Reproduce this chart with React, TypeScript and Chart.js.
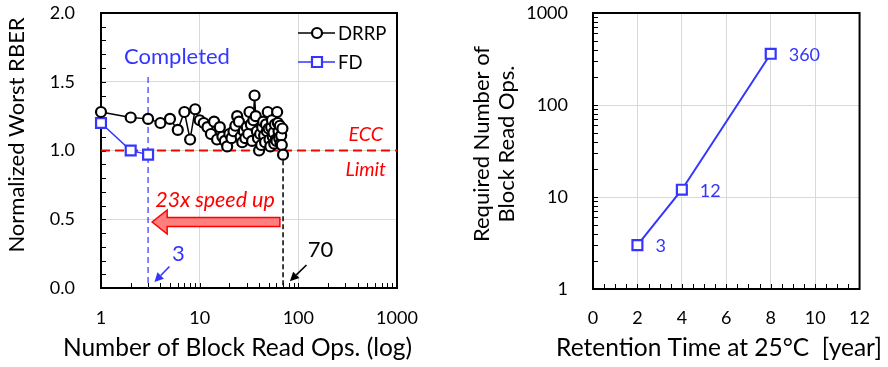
import React, { useEffect, useRef } from "react";
import { Chart, registerables } from "chart.js";

Chart.register(...registerables);

const FONT = "Lato, 'Open Sans', 'DejaVu Sans', sans-serif";
const BLUE = "#3535ff";
const RED = "#ff0000";
const GRID = "#d9d9d9";

// ---- left panel: worst-case RBER vs. number of block read operations ----
const blockReadOps = [
  1, 2, 3, 4, 5, 6, 7, 8, 9, 10, 11, 12, 13, 14, 15, 16, 17, 18, 19, 20,
  21, 22, 23, 24, 25, 26, 27, 28, 29, 30, 31, 32, 33, 34, 35, 36, 37, 38, 39, 40,
  41, 42, 43, 44, 45, 46, 47, 48, 49, 50, 51, 52, 53, 54, 55, 56, 57, 58, 59, 60,
  61, 62, 63, 64, 65, 66, 67, 68, 69, 70,
];
const drrpRber = [
  1.28, 1.24, 1.23, 1.2, 1.23, 1.15, 1.28, 1.08, 1.3, 1.22,
  1.2, 1.17, 1.12, 1.21, 1.08, 1.17, 1.1, 1.07, 1.03, 1.12,
  1.09, 1.14, 1.18, 1.25, 1.21, 1.1, 1.06, 1.14, 1.09, 1.17,
  1.12, 1.28, 1.19, 1.07, 1.22, 1.4, 1.25, 1.14, 1.09, 1.0,
  1.12, 1.04, 1.17, 1.21, 1.11, 1.06, 1.19, 1.14, 1.28, 1.16,
  1.08, 1.03, 1.17, 1.22, 1.1, 1.13, 1.05, 1.19, 1.08, 1.07,
  1.28, 1.2, 1.14, 1.09, 1.18, 1.05, 1.11, 1.04, 1.16, 0.97,
];
const fdReadOps = [1, 2, 3];
const fdRber = [1.2, 1.0, 0.97];
const rberTicks = [0, 0.5, 1.0, 1.5, 2.0];
const readOpsTicks = [1, 10, 100, 1000];
const eccLimit = 1.0;
const fdDoneOps = 3;
const drrpDoneOps = 70;

// ---- right panel: read operations needed vs. retention time ----
const retentionYears = [2, 4, 8];
const requiredReadOps = [3, 12, 360];
const retentionTicks = [0, 2, 4, 6, 8, 10, 12];
const requiredTicks = [1, 10, 100, 1000];

const font = (size: number, style = "normal") => `${style} ${size}px ${FONT}`;

function logMinorTicks(min: number, max: number): number[] {
  const out: number[] = [];
  for (let d = min; d < max; d *= 10) {
    for (let m = 2; m <= 10; m++) out.push(m * d);
  }
  return out;
}

function text(
  ctx: CanvasRenderingContext2D,
  s: string,
  x: number,
  y: number,
  size: number,
  color: string,
  align: CanvasTextAlign = "center",
  style = "normal",
  rotate = 0,
  baseline: CanvasTextBaseline = "middle"
) {
  ctx.save();
  ctx.translate(x, y);
  if (rotate) ctx.rotate(rotate);
  ctx.font = font(size, style);
  ctx.fillStyle = color;
  ctx.textAlign = align;
  ctx.textBaseline = baseline;
  ctx.fillText(s, 0, 0);
  ctx.restore();
}

function arrow(
  ctx: CanvasRenderingContext2D,
  x1: number,
  y1: number,
  x2: number,
  y2: number,
  color: string
) {
  const ang = Math.atan2(y2 - y1, x2 - x1);
  const hl = 9;
  const hw = 4.5;
  const bx = x2 - hl * Math.cos(ang);
  const by = y2 - hl * Math.sin(ang);
  ctx.save();
  ctx.strokeStyle = color;
  ctx.fillStyle = color;
  ctx.lineWidth = 1.6;
  ctx.beginPath();
  ctx.moveTo(x1, y1);
  ctx.lineTo(bx, by);
  ctx.stroke();
  ctx.beginPath();
  ctx.moveTo(x2, y2);
  ctx.lineTo(bx + hw * Math.sin(ang), by - hw * Math.cos(ang));
  ctx.lineTo(bx - hw * Math.sin(ang), by + hw * Math.cos(ang));
  ctx.closePath();
  ctx.fill();
  ctx.restore();
}

function frameAndTicks(chart: any, yMinor: number[], xMinor: number[]) {
  const { ctx, chartArea: a, scales } = chart;
  ctx.save();
  ctx.strokeStyle = "#000";
  ctx.lineWidth = 1;
  ctx.beginPath();
  for (const v of yMinor) {
    const p = Math.round(scales.y.getPixelForValue(v)) + 0.5;
    ctx.moveTo(a.left, p);
    ctx.lineTo(a.left + 5, p);
  }
  for (const v of xMinor) {
    const p = Math.round(scales.x.getPixelForValue(v)) + 0.5;
    ctx.moveTo(p, a.bottom);
    ctx.lineTo(p, a.bottom - 5);
  }
  ctx.stroke();
  ctx.lineWidth = 2;
  ctx.strokeRect(a.left, a.top, a.right - a.left, a.bottom - a.top);
  ctx.restore();
}

function vDash(chart: any, xv: number, y0: number, y1: number, color: string, w: number, dash: number[]) {
  const { ctx, scales } = chart;
  const x = scales.x.getPixelForValue(xv);
  ctx.save();
  ctx.strokeStyle = color;
  ctx.lineWidth = w;
  ctx.setLineDash(dash);
  ctx.beginPath();
  ctx.moveTo(x, scales.y.getPixelForValue(y0));
  ctx.lineTo(x, scales.y.getPixelForValue(y1));
  ctx.stroke();
  ctx.restore();
}

const leftDecor = {
  id: "leftDecor",
  beforeDatasetsDraw(chart: any) {
    const { ctx, chartArea: a, scales } = chart;
    const yMinor: number[] = [];
    for (let i = 1; i < 20; i++) yMinor.push(i / 10);
    frameAndTicks(chart, yMinor, logMinorTicks(1, 1000));

    // ECC limit
    const ye = scales.y.getPixelForValue(eccLimit);
    ctx.save();
    ctx.strokeStyle = RED;
    ctx.lineWidth = 2;
    ctx.setLineDash([9, 5]);
    ctx.beginPath();
    ctx.moveTo(a.left, ye);
    ctx.lineTo(a.right, ye);
    ctx.stroke();
    ctx.restore();

    vDash(chart, fdDoneOps, 1.535, 0, BLUE, 1.2, [6, 4]);
    vDash(chart, drrpDoneOps, 0.93, 0, "#000", 1.5, [5, 3]);
  },
  afterDatasetsDraw(chart: any) {
    const { ctx, chartArea: a, scales } = chart;
    const X = (v: number) => scales.x.getPixelForValue(v);
    const Y = (v: number) => scales.y.getPixelForValue(v);

    // speed-up arrow
    const tail = X(65);
    const tip = X(3.3);
    const yc = Y(0.48);
    ctx.save();
    ctx.beginPath();
    ctx.moveTo(tail, yc - 4.5);
    ctx.lineTo(tip + 15, yc - 4.5);
    ctx.lineTo(tip + 15, yc - 12);
    ctx.lineTo(tip, yc);
    ctx.lineTo(tip + 15, yc + 12);
    ctx.lineTo(tip + 15, yc + 4.5);
    ctx.lineTo(tail, yc + 4.5);
    ctx.closePath();
    ctx.fillStyle = "#ff7f7f";
    ctx.fill();
    ctx.strokeStyle = RED;
    ctx.lineWidth = 1.5;
    ctx.stroke();
    ctx.restore();

    text(ctx, "Completed", X(5.89), Y(1.68), 22, BLUE);
    text(ctx, "23x speed up", X(14.3), Y(0.64), 21.5, RED, "center", "italic");
    text(ctx, "ECC", X(719), Y(1.113), 19.5, RED, "right", "italic");
    text(ctx, "Limit", X(772), Y(0.858), 19.5, RED, "right", "italic");
    text(ctx, String(fdDoneOps), X(6.1), Y(0.247), 22, BLUE);
    text(ctx, String(drrpDoneOps), X(167.5), Y(0.276), 22, "#000");
    arrow(ctx, X(4.94), Y(0.156), X(3.48), Y(0.044), BLUE);
    arrow(ctx, X(121), Y(0.167), X(82), Y(0.05), "#000");

    // legend
    const rows = [
      { label: "DRRP", color: "#000", y: a.top + 20, square: false },
      { label: "FD", color: BLUE, y: a.top + 49, square: true },
    ];
    for (const r of rows) {
      ctx.save();
      ctx.strokeStyle = r.color;
      ctx.lineWidth = 1.5;
      ctx.beginPath();
      ctx.moveTo(a.right - 99, r.y);
      ctx.lineTo(a.right - 62, r.y);
      ctx.stroke();
      ctx.fillStyle = "#fff";
      ctx.lineWidth = 2.2;
      const cx = a.right - 80;
      ctx.beginPath();
      if (r.square) ctx.rect(cx - 5, r.y - 5, 10, 10);
      else ctx.arc(cx, r.y, 5, 0, Math.PI * 2);
      ctx.fill();
      ctx.stroke();
      ctx.restore();
      text(ctx, r.label, a.right - 59, r.y + 1, 18.5, "#000", "left");
    }

    // axis titles
    text(ctx, "Normalized Worst RBER", 17, 135, 22, "#000", "center", "normal", -Math.PI / 2);
    text(ctx, "Number of Block Read Ops. (log)", 237.5, 356, 24.5, "#000", "center", "normal", 0, "alphabetic");
  },
};

const rightDecor = {
  id: "rightDecor",
  beforeDatasetsDraw(chart: any) {
    const xMinor: number[] = [];
    for (let i = 1; i < 24; i++) xMinor.push(i / 2);
    frameAndTicks(chart, logMinorTicks(1, 1000), xMinor);
  },
  afterDatasetsDraw(chart: any) {
    const { ctx } = chart;
    const meta = chart.getDatasetMeta(0);
    meta.data.forEach((pt: any, i: number) => {
      text(ctx, String(requiredReadOps[i]), pt.x + 18, pt.y + 1, 18, BLUE, "left");
    });
    text(ctx, "Required Number of", 37.7, 144, 22, "#000", "center", "normal", -Math.PI / 2);
    text(ctx, "Block Read Ops.", 62.7, 144, 22, "#000", "center", "normal", -Math.PI / 2);
    text(ctx, "Retention Time at 25\u00b0C  [year]", 275, 356, 24.5, "#000", "center", "normal", 0, "alphabetic");
  },
};

const tickFont = { family: FONT, size: 18 };

// keep the y axis box at a fixed width and stop tick padding from shrinking the plot
const fixYAxis = (w: number) => (s: any) => {
  s.width = w;
  s.paddingTop = 0;
  s.paddingBottom = 0;
};

function LeftPanel() {
  const ref = useRef<HTMLCanvasElement>(null);
  useEffect(() => {
    const chart = new Chart(ref.current!, {
      type: "line",
      data: {
        datasets: [
          {
            label: "DRRP",
            data: blockReadOps.map((x, i) => ({ x, y: drrpRber[i] })),
            borderColor: "#000",
            borderWidth: 1.5,
            pointStyle: "circle",
            pointRadius: 5,
            pointBorderWidth: 2.2,
            pointBackgroundColor: "#fff",
            pointBorderColor: "#000",
            clip: false,
          },
          {
            label: "FD",
            data: fdReadOps.map((x, i) => ({ x, y: fdRber[i] })),
            borderColor: BLUE,
            borderWidth: 1.5,
            pointStyle: "rect",
            pointRadius: 7,
            pointBorderWidth: 2.2,
            pointBackgroundColor: "#fff",
            pointBorderColor: BLUE,
            clip: false,
          },
        ],
      },
      options: {
        animation: false,
        responsive: false,
        devicePixelRatio: 1,
        events: [],
        layout: { padding: { top: 13, right: 43, left: 0, bottom: 0 } },
        plugins: { legend: { display: false }, tooltip: { enabled: false } },
        scales: {
          x: {
            type: "logarithmic",
            min: 1,
            max: 1000,
            afterBuildTicks: (s: any) => {
              s.ticks = readOpsTicks.map((value) => ({ value }));
            },
            afterFit: (s: any) => {
              s.height = 79;
            },
            border: { display: false },
            grid: { color: GRID, drawTicks: false },
            ticks: {
              color: "#000",
              font: tickFont,
              padding: 19,
              autoSkip: false,
              maxRotation: 0,
              callback: (v: any) => String(v),
            },
          },
          y: {
            type: "linear",
            min: 0,
            max: 2,
            afterBuildTicks: (s: any) => {
              s.ticks = rberTicks.map((value) => ({ value }));
            },
            afterFit: fixYAxis(101),
            border: { display: false },
            grid: { color: GRID, drawTicks: false },
            ticks: {
              color: "#000",
              font: tickFont,
              padding: 26,
              callback: (v: any) => Number(v).toFixed(1),
            },
          },
        },
      } as any,
      plugins: [leftDecor],
    });
    return () => chart.destroy();
  }, []);
  return (
    <canvas
      ref={ref}
      width={440}
      height={367}
      style={{ position: "absolute", left: 0, top: 0, width: 440, height: 367 }}
    />
  );
}

function RightPanel() {
  const ref = useRef<HTMLCanvasElement>(null);
  useEffect(() => {
    const chart = new Chart(ref.current!, {
      type: "line",
      data: {
        datasets: [
          {
            label: "FD",
            data: retentionYears.map((x, i) => ({ x, y: requiredReadOps[i] })),
            borderColor: BLUE,
            borderWidth: 2,
            pointStyle: "rect",
            pointRadius: 7,
            pointBorderWidth: 2.2,
            pointBackgroundColor: "#fff",
            pointBorderColor: BLUE,
            clip: false,
          },
        ],
      },
      options: {
        animation: false,
        responsive: false,
        devicePixelRatio: 1,
        events: [],
        layout: { padding: { top: 13, right: 19, left: 0, bottom: 0 } },
        plugins: { legend: { display: false }, tooltip: { enabled: false } },
        scales: {
          x: {
            type: "linear",
            min: 0,
            max: 12,
            afterBuildTicks: (s: any) => {
              s.ticks = retentionTicks.map((value) => ({ value }));
            },
            afterFit: (s: any) => {
              s.height = 78;
            },
            border: { display: false },
            grid: { color: GRID, drawTicks: false },
            ticks: {
              color: "#000",
              font: tickFont,
              padding: 18,
              autoSkip: false,
              maxRotation: 0,
              callback: (v: any) => String(v),
            },
          },
          y: {
            type: "logarithmic",
            min: 1,
            max: 1000,
            afterBuildTicks: (s: any) => {
              s.ticks = requiredTicks.map((value) => ({ value }));
            },
            afterFit: fixYAxis(149),
            border: { display: false },
            grid: { color: GRID, drawTicks: false },
            ticks: {
              color: "#000",
              font: tickFont,
              padding: 25,
              callback: (v: any) => String(v),
            },
          },
        },
      } as any,
      plugins: [rightDecor],
    });
    return () => chart.destroy();
  }, []);
  return (
    <canvas
      ref={ref}
      width={444}
      height={367}
      style={{ position: "absolute", left: 444, top: 0, width: 444, height: 367 }}
    />
  );
}

export default function App() {
  return (
    <div
      style={{
        position: "fixed",
        left: 0,
        top: 0,
        width: 888,
        height: 367,
        background: "#fff",
        overflow: "hidden",
      }}
    >
      <LeftPanel />
      <RightPanel />
    </div>
  );
}
